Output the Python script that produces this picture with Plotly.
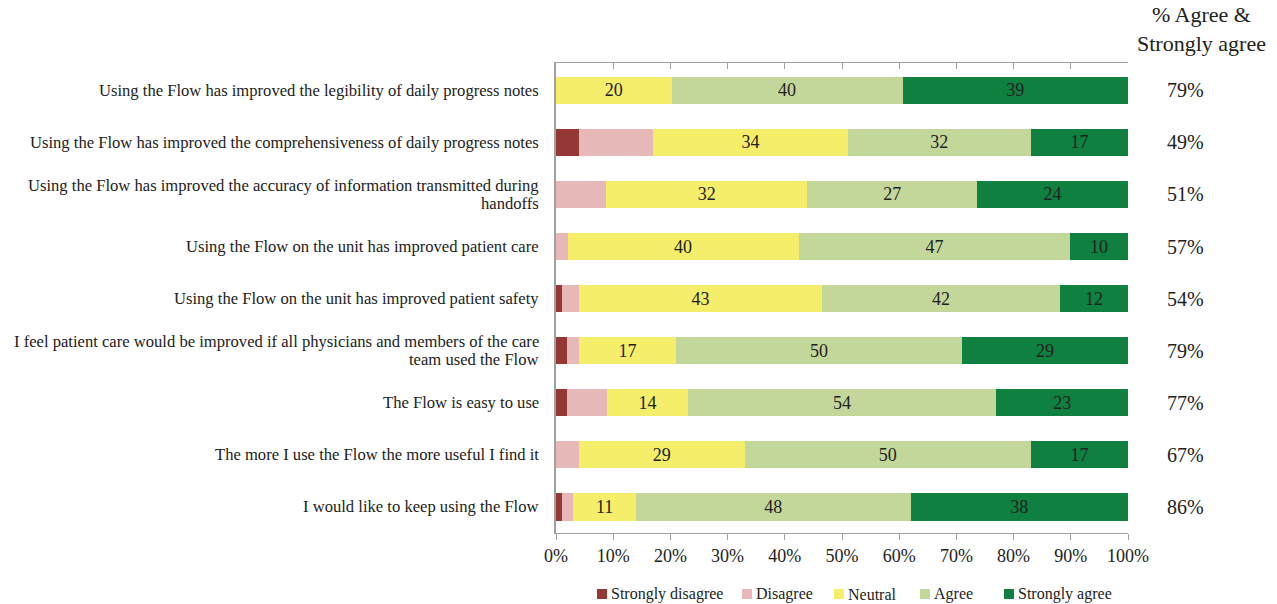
import plotly.graph_objects as go

statements = [
    "Using the Flow has improved the legibility of daily progress notes",
    "Using the Flow has improved the comprehensiveness of daily progress notes",
    "Using the Flow has improved the accuracy of information transmitted during<br>handoffs",
    "Using the Flow on the unit has improved patient care",
    "Using the Flow on the unit has improved patient safety",
    "I feel patient care would be improved if all physicians and members of the care<br>team used the Flow",
    "The Flow is easy to use",
    "The more I use the Flow the more useful I find it",
    "I would like to keep using the Flow",
]

strongly_disagree = [0, 4, 0, 0, 1, 2, 2, 0, 1]
disagree = [0, 13, 8, 2, 3, 2, 7, 4, 2]
neutral = [20, 34, 32, 40, 43, 17, 14, 29, 11]
agree = [40, 32, 27, 47, 42, 50, 54, 50, 48]
strongly_agree = [39, 17, 24, 10, 12, 29, 23, 17, 38]

x_ticks = [0, 10, 20, 30, 40, 50, 60, 70, 80, 90, 100]
x_tick_labels = [f"{v}%" for v in x_ticks]

series = [
    ("Strongly disagree", strongly_disagree, "#953735", False),
    ("Disagree", disagree, "#E6B9B8", False),
    ("Neutral", neutral, "#F5EE6B", True),
    ("Agree", agree, "#C4D79B", True),
    ("Strongly agree", strongly_agree, "#0F8040", True),
]

FONT = "Liberation Serif"
INK = "#222222"

# plot-area geometry (pixels) used to place the legend row and row labels
PLOT_L, PLOT_R, PLOT_T, PLOT_B = 556, 1128, 63, 533
PLOT_W, PLOT_H = PLOT_R - PLOT_L, PLOT_B - PLOT_T
legend_left_px = [597, 742, 834, 920, 1004]
legend_mid_px = 594
swatch_px = 10
label_right_px = 541
label_line_px = 18


def to_paper_x(px):
    return (px - PLOT_L) / PLOT_W


def to_paper_y(py):
    return (PLOT_B - py) / PLOT_H


fig = go.Figure()
for name, vals, color, labelled in series:
    fig.add_trace(go.Bar(
        y=statements,
        x=vals,
        name=name,
        orientation="h",
        marker=dict(color=color, line=dict(width=0)),
        text=[str(v) for v in vals] if labelled else None,
        textposition="inside" if labelled else "none",
        insidetextanchor="middle",
        textfont=dict(family=FONT, size=18, color=INK),
        textangle=0,
        hoverinfo="x+name",
        showlegend=False,
    ))

# Top axis frame with inward ticks
fig.add_trace(go.Scatter(x=[0, 100], y=[statements[0], statements[0]], xaxis="x2",
                         mode="markers", marker=dict(opacity=0), showlegend=False,
                         hoverinfo="skip"))

# Statement labels, right-aligned against the axis, with tight line spacing
for stmt in statements:
    lines = stmt.split("<br>")
    n = len(lines)
    for i, line in enumerate(lines):
        shift = ((n - 1) / 2 - i) * label_line_px
        fig.add_annotation(x=to_paper_x(label_right_px), xref="paper", y=stmt, yref="y",
                           yshift=shift, text=line, showarrow=False,
                           xanchor="right", yanchor="middle",
                           font=dict(family=FONT, size=16.6, color=INK))

# % Agree & Strongly agree column
agree_total = [a + s for a, s in zip(agree, strongly_agree)]
for stmt, pct in zip(statements, agree_total):
    fig.add_annotation(x=1.1, xref="paper", y=stmt, yref="y", text=f"{pct}%",
                       showarrow=False, xanchor="center", yanchor="middle",
                       font=dict(family=FONT, size=20, color=INK))

fig.add_annotation(x=1.129, xref="paper", y=1.072, yref="paper",
                   text="% Agree &<br>Strongly agree", showarrow=False,
                   xanchor="center", yanchor="middle", align="center",
                   font=dict(family=FONT, size=22, color=INK))

# Legend row: square swatch followed by the series name
for (name, _, color, _), left in zip(series, legend_left_px):
    fig.add_shape(type="rect", xref="paper", yref="paper",
                  x0=to_paper_x(left), x1=to_paper_x(left + swatch_px),
                  y0=to_paper_y(legend_mid_px + swatch_px / 2),
                  y1=to_paper_y(legend_mid_px - swatch_px / 2),
                  fillcolor=color, line=dict(width=0))
    fig.add_annotation(x=to_paper_x(left + swatch_px + 2), xref="paper",
                       y=to_paper_y(legend_mid_px), yref="paper",
                       text=name, showarrow=False, xanchor="left", yanchor="middle",
                       font=dict(family=FONT, size=16, color=INK))

fig.update_layout(
    width=1277, height=604,
    margin=dict(l=PLOT_L, r=1277 - PLOT_R, t=PLOT_T, b=604 - PLOT_B, autoexpand=False),
    barmode="stack",
    barnorm="percent",
    bargap=0.48,
    plot_bgcolor="white",
    paper_bgcolor="white",
    font=dict(family=FONT, size=16.6, color=INK),
    xaxis=dict(
        range=[0, 100], tickvals=x_ticks, ticktext=x_tick_labels,
        showgrid=False, zeroline=False,
        showline=True, linecolor="#A0A0A0", linewidth=1,
        ticks="outside", ticklen=6, tickcolor="#A0A0A0",
        tickfont=dict(family=FONT, size=18, color=INK),
    ),
    xaxis2=dict(
        range=[0, 100], tickvals=x_ticks, overlaying="x", side="top",
        showgrid=False, zeroline=False, showticklabels=False,
        showline=True, linecolor="#A0A0A0", linewidth=1,
        ticks="inside", ticklen=6, tickcolor="#A0A0A0",
    ),
    yaxis=dict(
        autorange="reversed", showgrid=False, zeroline=False,
        showline=True, linecolor="#A0A0A0", linewidth=1.5,
        ticks="", showticklabels=False,
    ),
    showlegend=False,
)

fig.write_html("out.html")
